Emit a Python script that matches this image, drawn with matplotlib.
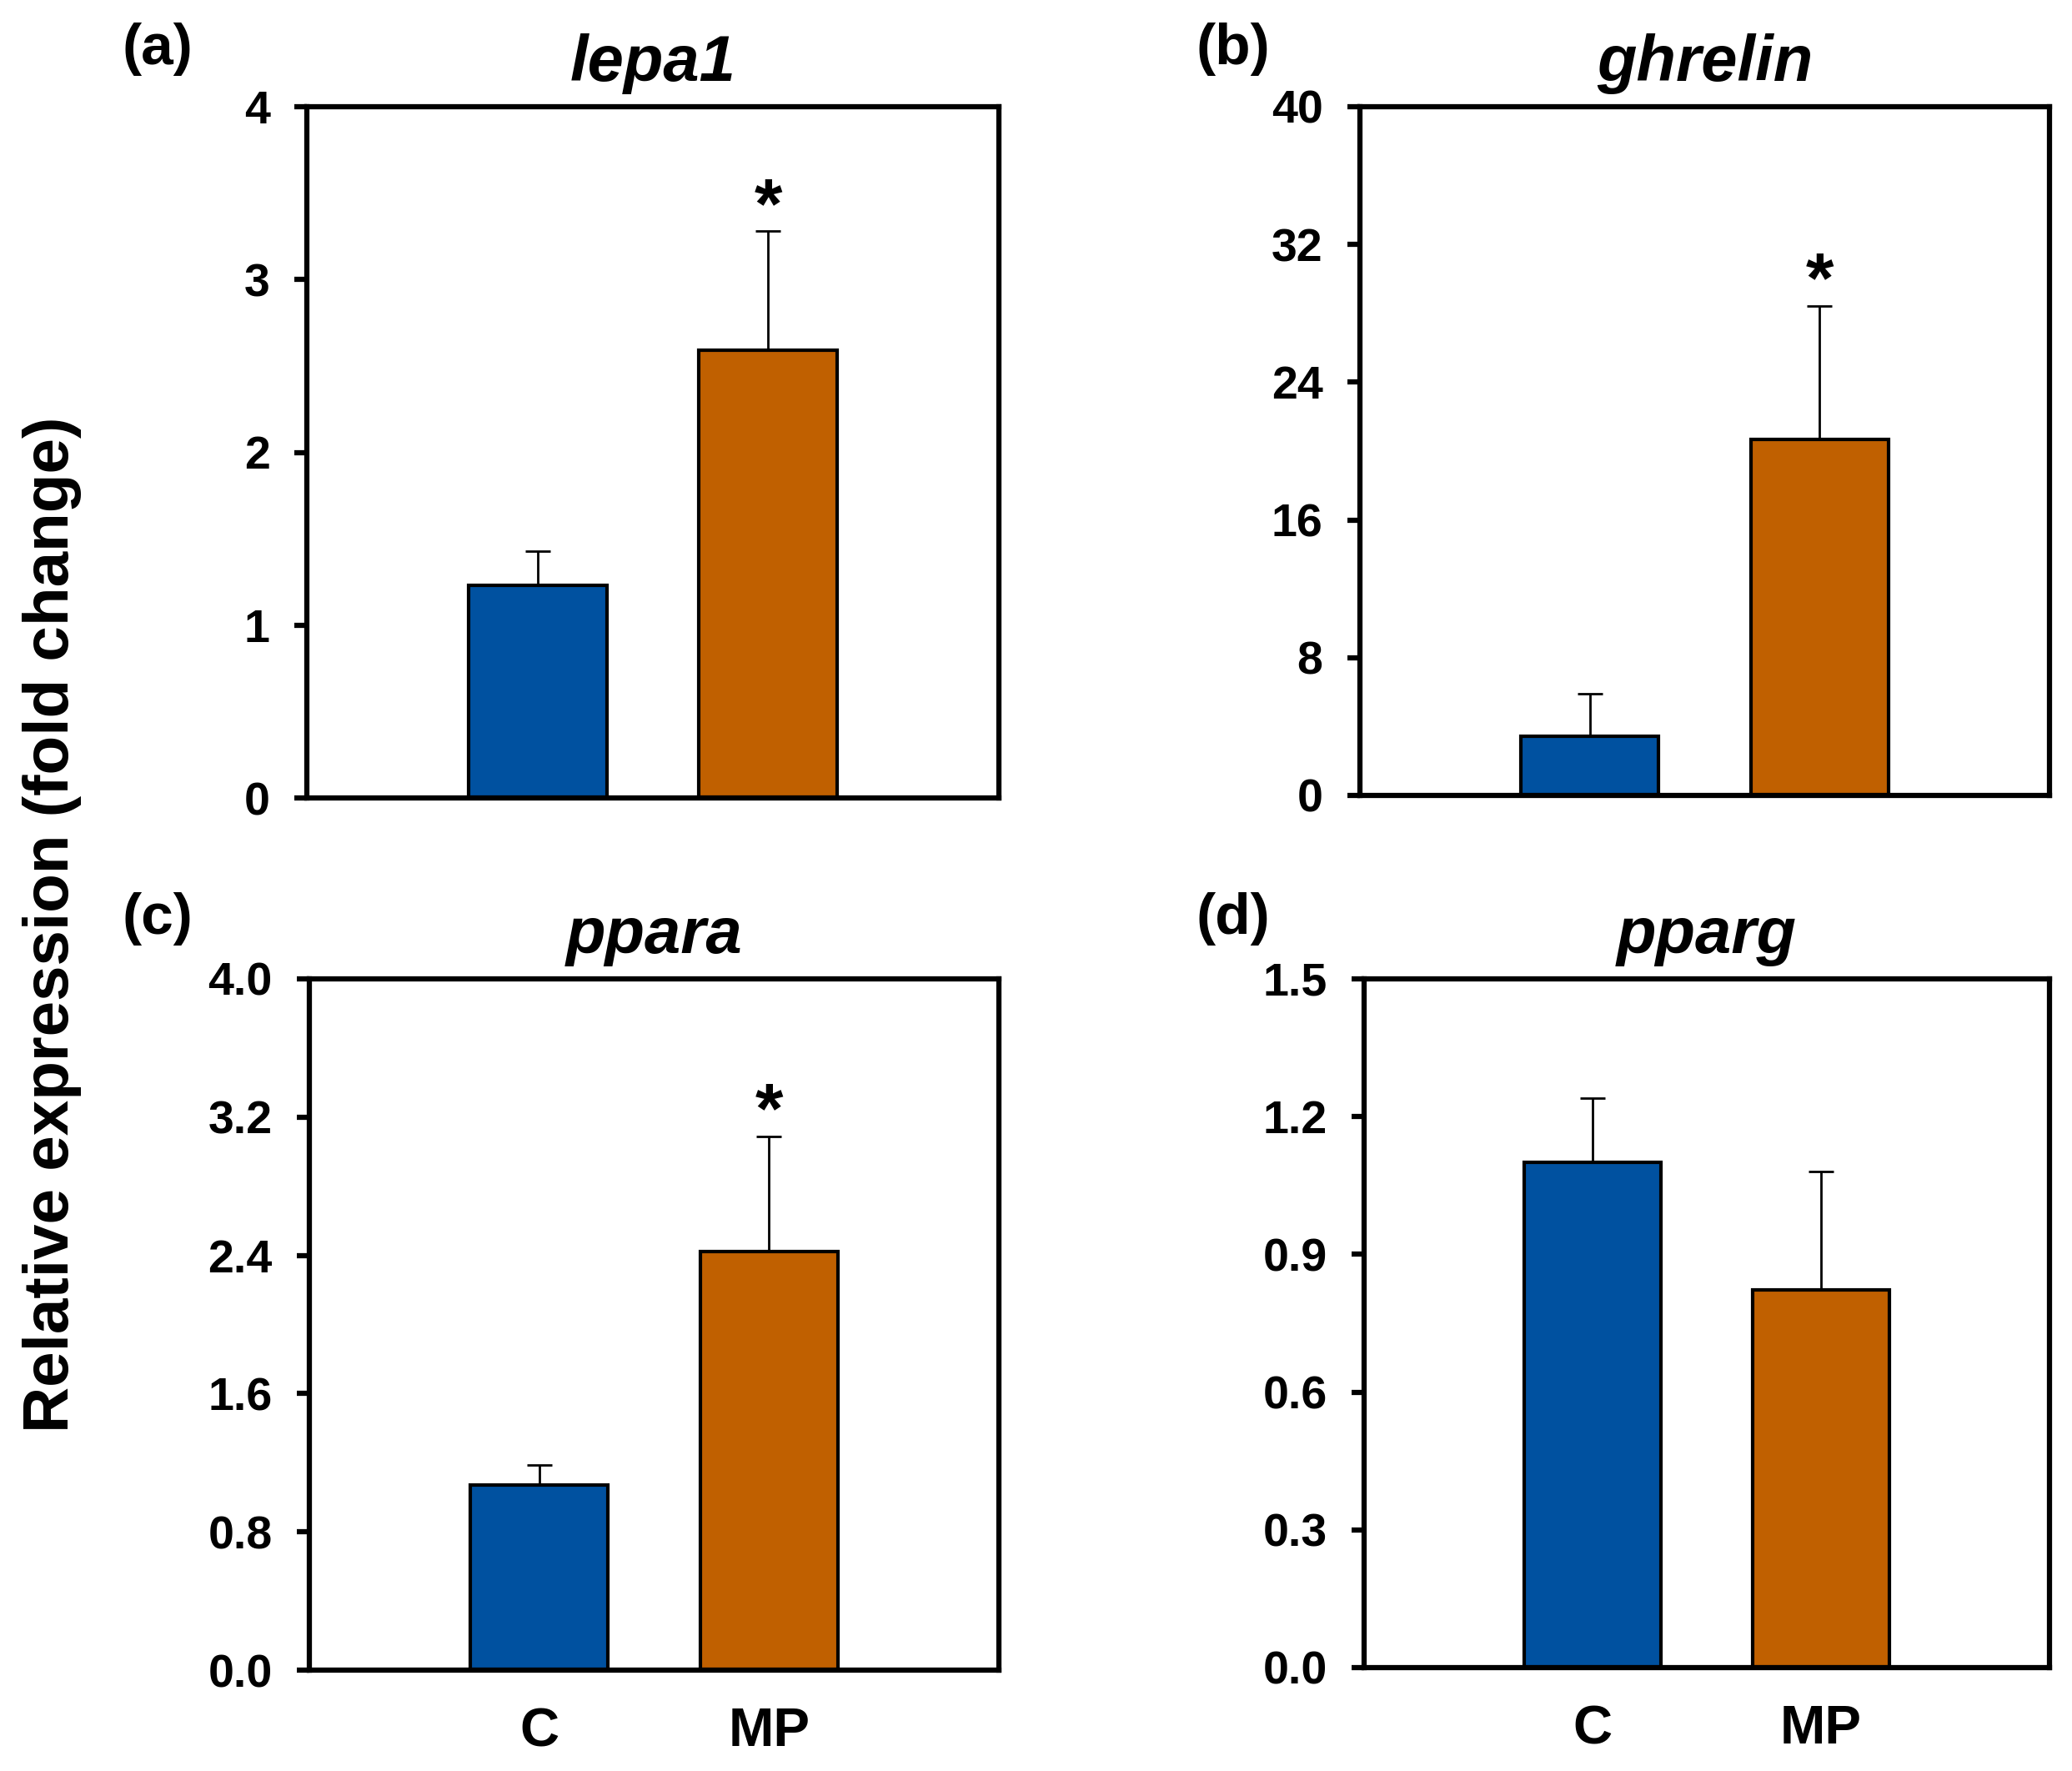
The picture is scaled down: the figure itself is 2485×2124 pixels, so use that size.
import matplotlib
matplotlib.use('Agg')
import matplotlib.pyplot as plt
import numpy as np

plt.rcParams['font.family'] = ['Liberation Sans', 'DejaVu Sans']
plt.rcParams['font.weight'] = 'bold'

# data
genes = ['lepa1', 'ghrelin', 'ppara', 'pparg']
panel_tags = ['(a)', '(b)', '(c)', '(d)']
groups = ['C', 'MP']
means = [[1.23, 2.59], [3.45, 20.7], [1.07, 2.42], [1.10, 0.823]]
errs = [[0.20, 0.69], [2.46, 7.75], [0.115, 0.67], [0.14, 0.257]]
signif = [[False, True], [False, True], [False, True], [False, False]]
y_max = [4, 40, 4.0, 1.5]
y_step = [1, 8, 0.8, 0.3]
y_fmt = ['{:.0f}', '{:.0f}', '{:.1f}', '{:.1f}']

bar_colors = ['#0051A0', '#C06000']

W, H = 2485, 2124
fig = plt.figure(figsize=(W / 100, H / 100), dpi=100)

# axes boxes in pixels: left, top, right, bottom
boxes = [(368, 128, 1198, 957), (1631, 128, 2458, 954),
         (371, 1174, 1198, 2003), (1636, 1174, 2458, 2000)]
tag_pos = [(146, 27), (1434, 27), (146, 1070), (1434, 1070)]

for i, gene in enumerate(genes):
    l, t, r, b = boxes[i]
    ax = fig.add_axes([l / W, 1 - b / H, (r - l) / W, (b - t) / H])
    x = np.arange(1, len(groups) + 1)
    ax.bar(x, means[i], width=0.6, color=bar_colors, edgecolor='black',
           linewidth=3, zorder=2)
    ax.errorbar(x, means[i], yerr=[np.zeros(len(groups)), errs[i]], fmt='none',
                ecolor='black', elinewidth=2, capsize=11, capthick=2, zorder=1)
    for j in range(len(groups)):
        if signif[i][j]:
            ax.annotate('*', (x[j], means[i][j] + errs[i][j]), xytext=(0, 19),
                        textcoords='offset points', ha='center', va='center',
                        fontsize=62, fontweight='bold')
    ax.set_xlim(0, 3)
    ax.set_ylim(0, y_max[i])
    ticks = np.arange(0, y_max[i] + y_step[i] / 2, y_step[i])
    ax.set_yticks(ticks)
    ax.set_yticklabels([y_fmt[i].format(v) for v in ticks])
    ax.tick_params(axis='y', direction='out', length=11, width=4.5, pad=21,
                   labelsize=40)
    if i >= 2:
        ax.set_xticks(x)
        ax.set_xticklabels(groups, fontsize=47)
        ax.tick_params(axis='x', length=0, pad=32)
    else:
        ax.set_xticks([])
    for sp in ax.spines.values():
        sp.set_linewidth(4.5)
    ax.set_title(gene, fontsize=56, fontweight='bold', style='italic', pad=22)
    fig.text(tag_pos[i][0] / W, 1 - tag_pos[i][1] / H, panel_tags[i],
             fontsize=50, fontweight='bold', va='top', ha='left')

fig.text(0.025, 0.478, 'Relative expression (fold change)', rotation=90,
         fontsize=55, fontweight='bold', ha='center', va='center')

fig.savefig('out.png', dpi=100)
